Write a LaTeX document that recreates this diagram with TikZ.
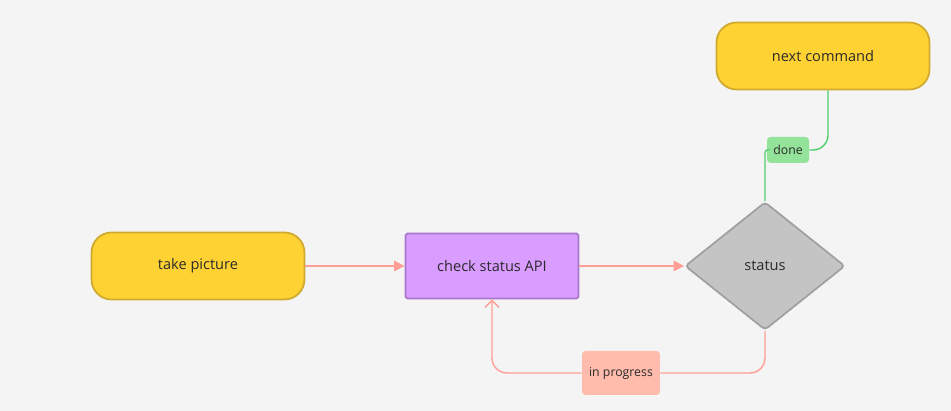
\documentclass[tikz,border=0pt]{standalone}
\usepackage{fontspec}
\setmainfont{Open Sans}
\usetikzlibrary{shapes.geometric,arrows.meta}
\definecolor{bg}{HTML}{F4F4F4}
\definecolor{sunfill}{HTML}{FFD233}
\definecolor{sunline}{HTML}{D0AA2E}
\definecolor{lilacfill}{HTML}{D99CFF}
\definecolor{lilacline}{HTML}{A877CF}
\definecolor{greyfill}{HTML}{C4C4C4}
\definecolor{greyline}{HTML}{A0A0A0}
\definecolor{salmon}{HTML}{FF9E94}
\definecolor{salmonfill}{HTML}{FFBCAD}
\definecolor{mint}{HTML}{4FD06C}
\definecolor{mintfill}{HTML}{94E39A}
\definecolor{ink}{HTML}{2A2A2A}
\begin{document}
\begin{tikzpicture}[x = 0.02cm, y = -0.02cm,
  every node/.style = {font=\fontsize{8.3}{10}\selectfont, text=ink},
  terminal/.style = {draw=sunline, fill=sunfill, line width=1pt, rounded corners=0.4cm,
    minimum width=4.26cm, minimum height=1.34cm},
  process/.style = {draw=lilacline, fill=lilacfill, line width=1pt, rounded corners=1pt,
    minimum width=3.46cm, minimum height=1.3cm},
  decision/.style = {diamond, draw=greyline, fill=greyfill, line width=1pt, rounded corners=2pt,
    minimum width=3.2cm, minimum height=2.56cm, inner sep=0pt},
  tag/.style = {rounded corners=2pt, inner sep=0pt, font=\fontsize{7}{9}\selectfont},
  flow/.style = {salmon, line width=0.8pt},
  yes/.style = {mint, line width=0.8pt}]
  \fill [bg] (0,0) rectangle (951,411);
  \useasboundingbox (0,0) rectangle (951,411);
  % boxes
  \node [terminal] (take) at (198,266) {take picture};
  \node [process] (check) at (492,266) {check status API};
  \node [decision] (status) at (765,266) {status};
  \node [terminal] (next) at (823,56) {next command};
  % loop back
  \node [tag, fill=salmonfill, minimum width=1.56cm, minimum height=0.88cm] (busy) at (621,373) {in progress};
  \draw [flow, -{Triangle[length=6pt, width=6pt]}] (take) -- (check);
  \draw [flow, -{Triangle[length=6pt, width=6pt]}] (check) -- (status);
  \draw [flow, rounded corners=0.3cm] (status.south) |- (busy.east);
  \draw [flow, rounded corners=0.3cm, -{Straight Barb[length=4pt, width=8pt]}] (busy.west) -| (check.south);
  % finished
  \node [tag, fill=mintfill, minimum width=0.84cm, minimum height=0.52cm] (done) at (788,150) {done};
  \draw [yes, rounded corners=1.5pt] (status.north) |- (done.west);
  \draw [yes, rounded corners=0.3cm] (done.east) -| ([xshift=0.1cm]next.south);
\end{tikzpicture}
\end{document}
